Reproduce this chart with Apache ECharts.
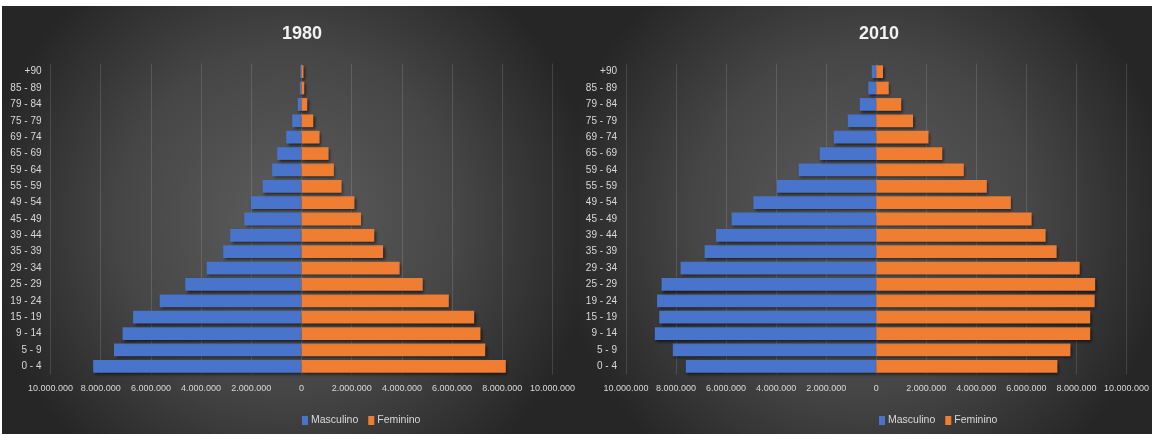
<!DOCTYPE html>
<html>
<head>
<meta charset="utf-8">
<script src="https://cdn.jsdelivr.net/npm/echarts@6/dist/echarts.min.js"></script>
<style>
  html, body { margin: 0; padding: 0; background: #ffffff; }
  #chart { width: 1152px; height: 434px; }
</style>
</head>
<body>
<div id="chart"></div>
<script>
// Age groups, bottom to top
const ageGroups = ['0 - 4', '5 - 9', '9 - 14', '15 - 19', '19 - 24', '25 - 29', '29 - 34', '35 - 39',
  '39 - 44', '45 - 49', '49 - 54', '55 - 59', '59 - 64', '65 - 69', '69 - 74', '75 - 79',
  '79 - 84', '85 - 89', '+90'];

// Population by sex, 1980
const male1980 = [8300000, 7470000, 7130000, 6710000, 5650000, 4630000, 3780000, 3120000,
  2840000, 2280000, 2020000, 1550000, 1170000, 970000, 610000, 370000, 150000, 70000, 50000];
const female1980 = [8140000, 7320000, 7130000, 6880000, 5870000, 4830000, 3910000, 3250000,
  2900000, 2370000, 2110000, 1600000, 1290000, 1080000, 720000, 470000, 230000, 110000, 80000];

// Population by sex, 2010
const male2010 = [7610000, 8130000, 8850000, 8670000, 8760000, 8580000, 7820000, 6860000,
  6400000, 5780000, 4910000, 3970000, 3100000, 2260000, 1700000, 1140000, 660000, 320000, 180000];
const female2010 = [7240000, 7760000, 8550000, 8550000, 8730000, 8750000, 8130000, 7210000,
  6770000, 6210000, 5380000, 4420000, 3500000, 2640000, 2090000, 1470000, 1000000, 500000, 270000];

const panelTitles = ['1980', '2010'];
const seriesNames = ['Masculino', 'Feminino'];

const BLUE = '#4874cc';
const ORANGE = '#ef7d32';
const FONT = "'Liberation Sans', Arial, sans-serif";

function fmt(v) {
  const n = Math.abs(Math.round(v));
  return String(n).replace(/\B(?=(\d{3})+(?!\d))/g, '.');
}

const panels = [
  { left: 50.5, width: 502, center: 297, bgX: 2, bgW: 574, male: male1980, female: female1980 },
  { left: 626, width: 502, center: 874, bgX: 576, bgW: 576, male: male2010, female: female2010 }
];

const chart = echarts.init(document.getElementById('chart'), null, { renderer: 'canvas' });

const option = {
  animation: false,
  textStyle: { fontFamily: FONT },
  graphic: panels.map(p => ({
    type: 'rect',
    silent: true,
    z: -10,
    shape: { x: p.bgX, y: 6, width: p.bgW, height: 428 },
    style: {
      fill: new echarts.graphic.RadialGradient(0.5, 0.5, 0.72, [
        { offset: 0, color: '#5d5d5d' },
        { offset: 0.55, color: '#464646' },
        { offset: 1, color: '#262626' }
      ])
    }
  })),
  title: panels.map((p, i) => ({
    text: panelTitles[i],
    left: p.center,
    top: 20,
    textAlign: 'center',
    textStyle: { color: '#f2f2f2', fontSize: 18, fontWeight: 'bold', fontFamily: FONT }
  })),
  legend: panels.map((p, i) => ({
    data: seriesNames,
    left: p.center,
    top: 410,
    textAlign: 'center',
    orient: 'horizontal',
    itemWidth: 6,
    itemHeight: 9,
    itemGap: 10,
    icon: 'rect',
    textStyle: { color: '#d9d9d9', fontSize: 10.5, fontFamily: FONT, padding: [0, 0, 0, -2] }
  })),
  grid: panels.map(p => ({
    left: p.left,
    width: p.width,
    top: 63.5,
    height: 311,
    containLabel: false
  })),
  xAxis: panels.map((p, i) => ({
    type: 'value',
    gridIndex: i,
    min: -10000000,
    max: 10000000,
    interval: 2000000,
    axisLine: { show: false },
    axisTick: { show: false },
    splitLine: { show: true, lineStyle: { color: 'rgba(255,255,255,0.13)', width: 1 } },
    axisLabel: {
      color: '#d9d9d9',
      fontSize: 9,
      fontFamily: FONT,
      margin: 10,
      showMinLabel: true,
      showMaxLabel: true,
      hideOverlap: false,
      formatter: v => fmt(v)
    }
  })),
  yAxis: panels.map((p, i) => ({
    type: 'category',
    gridIndex: i,
    data: ageGroups,
    axisLine: { show: false },
    axisTick: { show: false },
    splitLine: { show: false },
    axisLabel: { color: '#d9d9d9', fontSize: 10, fontFamily: FONT, margin: 9 }
  })),
  series: []
};

panels.forEach((p, i) => {
  const shadow = {
    shadowColor: 'rgba(0,0,0,0.6)',
    shadowBlur: 3,
    shadowOffsetX: 1.5,
    shadowOffsetY: 2
  };
  option.series.push({
    name: 'Masculino',
    type: 'bar',
    xAxisIndex: i,
    yAxisIndex: i,
    stack: 'pop' + i,
    barCategoryGap: '22%',
    itemStyle: Object.assign({ color: BLUE }, shadow),
    data: p.male.map(v => -v)
  });
  option.series.push({
    name: 'Feminino',
    type: 'bar',
    xAxisIndex: i,
    yAxisIndex: i,
    stack: 'pop' + i,
    barCategoryGap: '22%',
    itemStyle: Object.assign({ color: ORANGE }, shadow),
    data: p.female.slice()
  });
});

chart.setOption(option);
</script>
</body>
</html>
